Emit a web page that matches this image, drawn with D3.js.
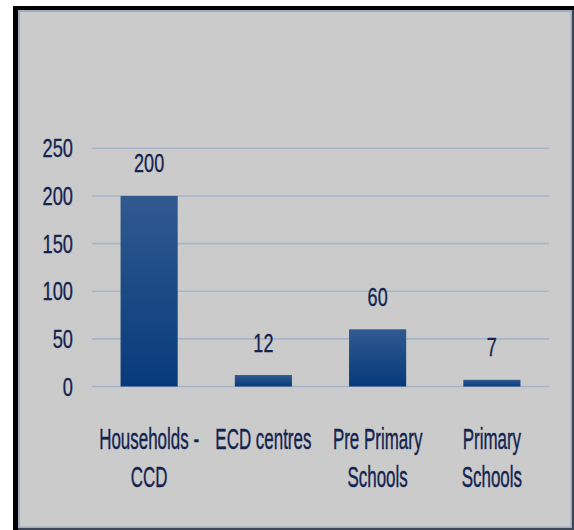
<!DOCTYPE html>
<html>
<head>
<meta charset="utf-8">
<script src="https://cdn.jsdelivr.net/npm/d3@7"></script>
<style>
  html, body { margin: 0; padding: 0; background: #ffffff; }
  svg { display: block; }
</style>
</head>
<body>
<script>
// Chart data
const categories = ["Households - CCD", "ECD centres", "Pre Primary Schools", "Primary Schools"];
const categoryLines = [["Households -", "CCD"], ["ECD centres"], ["Pre Primary", "Schools"], ["Primary", "Schools"]];
const values = [200, 12, 60, 7];
const yTicks = [0, 50, 100, 150, 200, 250];

const W = 574, H = 530;
const FONT = "'Liberation Sans', Arial, sans-serif";
const TEXT = "#142450";

const svg = d3.select("body").append("svg")
  .attr("width", W).attr("height", H);

// Bar fill: lighter steel blue at the top fading to deep navy
const defs = svg.append("defs");
const grad = defs.append("linearGradient")
  .attr("id", "barFill").attr("x1", 0).attr("y1", 0).attr("x2", 0).attr("y2", 1);
grad.append("stop").attr("offset", "0%").attr("stop-color", "#30598f");
grad.append("stop").attr("offset", "100%").attr("stop-color", "#073a7b");

// Frame: thick black outline, grey panel with a thin blue-grey edge
svg.append("rect").attr("x", 13).attr("y", 6).attr("width", W - 13).attr("height", H - 6)
  .attr("fill", "#000");
svg.append("rect").attr("x", 18).attr("y", 10).attr("width", W - 18 - 1).attr("height", H - 10 - 1.5)
  .attr("fill", "#9eabc0");
svg.append("rect").attr("x", 20).attr("y", 12).attr("width", W - 20 - 3.5).attr("height", H - 12 - 3.5)
  .attr("fill", "#cbcbcb");
svg.append("rect").attr("x", W - 2).attr("y", 10).attr("width", 2).attr("height", H - 10)
  .attr("fill", "#3c4656");
svg.append("rect").attr("x", 18).attr("y", H - 2).attr("width", W - 18).attr("height", 2)
  .attr("fill", "#3c4656");

// Scales
const x = d3.scaleBand().domain(categories).range([92, 549])
  .paddingInner(0.5).paddingOuter(0.25);
const y = d3.scaleLinear().domain([0, 250]).range([386.5, 148.3]);

// Gridlines
svg.append("g").selectAll("line").data(yTicks).join("line")
  .attr("x1", 92).attr("x2", 549)
  .attr("y1", d => y(d)).attr("y2", d => y(d))
  .attr("stroke", "#a8b5c8").attr("stroke-width", 1.6);

// Y axis tick labels (condensed lettering)
const yAxis = svg.append("g").attr("transform", "translate(73,0)")
  .call(d3.axisLeft(y).tickValues(yTicks).tickSize(0).tickPadding(0));
yAxis.select(".domain").remove();
yAxis.selectAll("text")
  .attr("x", 0).attr("dy", null)
  .attr("dominant-baseline", "central")
  .attr("fill", TEXT).attr("stroke", TEXT).attr("stroke-width", 0.35)
  .style("font-family", FONT).style("font-size", "25px")
  .attr("transform", "scale(0.73,1)");

// Bars
svg.append("g").selectAll("rect").data(values).join("rect")
  .attr("x", (d, i) => x(categories[i]))
  .attr("width", x.bandwidth())
  .attr("y", d => y(d))
  .attr("height", d => y(0) - y(d))
  .attr("fill", "url(#barFill)");

// Value labels above bars
svg.append("g").selectAll("g").data(values).join("g")
  .attr("transform", (d, i) => `translate(${x(categories[i]) + x.bandwidth() / 2},${y(d) - 23.5})`)
  .append("text")
  .attr("text-anchor", "middle")
  .attr("transform", "scale(0.68,1)")
  .attr("fill", TEXT).attr("stroke", TEXT).attr("stroke-width", 0.35)
  .style("font-family", FONT).style("font-size", "26.5px")
  .text(d => d);

// Category labels, wrapped onto two lines
const cat = svg.append("g").selectAll("g").data(categoryLines).join("g")
  .attr("transform", (d, i) => `translate(${x(categories[i]) + x.bandwidth() / 2},449)`);
cat.append("text")
  .attr("text-anchor", "middle")
  .attr("transform", "scale(0.565,1)")
  .attr("fill", TEXT).attr("stroke", TEXT).attr("stroke-width", 0.45)
  .style("font-family", FONT).style("font-size", "30px")
  .selectAll("tspan").data(d => d).join("tspan")
  .attr("x", 0).attr("y", (d, j) => j * 37.7)
  .text(d => d);
</script>
</body>
</html>
